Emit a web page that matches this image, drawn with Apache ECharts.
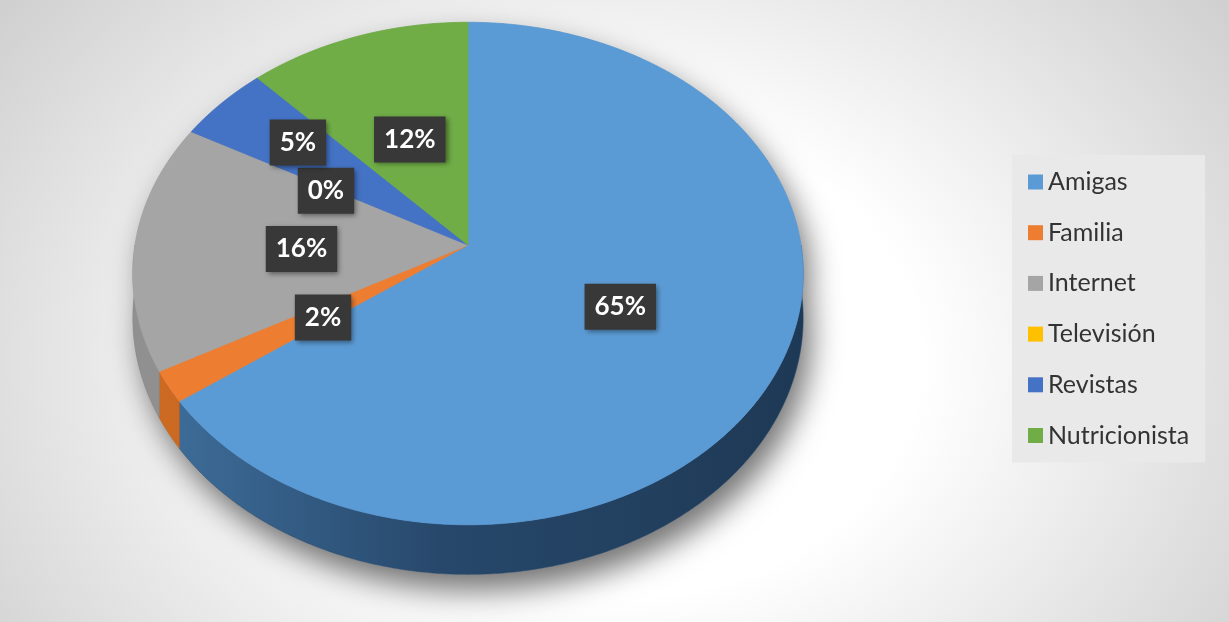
<!DOCTYPE html>
<html><head><meta charset="utf-8">
<script src="https://cdn.jsdelivr.net/npm/echarts@6/dist/echarts.min.js"></script>
<style>
html,body{margin:0;padding:0;width:1229px;height:622px;overflow:hidden;}
body{background: radial-gradient(ellipse 62% 95% at 50% 58%, #ffffff 40%, #d0d0d0 100%);}
#c{width:1229px;height:622px;}
</style></head>
<body><div id="c"></div>
<script>
// ---- data ----
const categories = ['Amigas', 'Familia', 'Internet', 'Televisión', 'Revistas', 'Nutricionista'];
const values = [65, 2, 16, 0, 5, 12];

// ---- styles ----
const colors = ['#5b9bd5', '#ed7d31', '#a5a5a5', '#ffc000', '#4472c4', '#70ad47'];
const sideColors = [
  ['#3f6f9c', '#27486b', '#1e3955'],
  ['#cc6a22', '#c26320', '#b05819'],
  ['#909090', '#868686', '#7a7a7a'],
  ['#bf9000', '#b08400', '#a07800'],
  ['#335694', '#2c4b82', '#253f6e'],
  ['#548235', '#4b752f', '#42682a']
];
// manual nudge of one crowded label (pixels), like the original
const labelNudge = { 'Revistas': [-43, -33] };
const LABEL_DY = 4;

// ---- 3D projection geometry ----
const CX = 468, CY = 245, RX = 333, RY = 248, K = 0.1135, H = 44;
function proj(theta, r, depth) {
  const s = Math.sin(theta), c = Math.cos(theta);
  const w = 1 + K * r * c;
  return [CX + RX * r * s / w, CY - RY * r * c / w + depth * H / w];
}
const total = values.reduce((a, b) => a + b, 0);
const DEG = Math.PI / 180;

function arc(a0, a1, r, depth) {
  const n = Math.max(2, Math.ceil((a1 - a0) / (0.5 * DEG)));
  const out = [];
  for (let k = 0; k <= n; k++) out.push(proj(a0 + (a1 - a0) * k / n, r, depth));
  return out;
}

function renderSlice(params, api) {
  const i = params.seriesIndex;
  let cum = 0;
  for (let j = 0; j < i; j++) cum += values[j];
  const v = api.value(0);
  const a0 = cum / total * 2 * Math.PI;
  const a1 = (cum + v) / total * 2 * Math.PI;
  const color = api.visual('color');
  const children = [];

  if (i === 0) {
    // silhouette for the soft drop shadow
    const sil = arc(-Math.PI / 2, Math.PI / 2, 1, 0).concat(arc(Math.PI / 2, 3 * Math.PI / 2, 1, 1));
    children.push({
      type: 'polygon', shape: { points: sil }, z2: -5,
      style: { fill: '#9a9a9a', shadowBlur: 30, shadowOffsetX: 8, shadowOffsetY: 16, shadowColor: 'rgba(0,0,0,0.55)' }
    });
  }

  // side wall (front half only)
  const s0 = Math.max(a0, Math.PI / 2), s1 = Math.min(a1, 3 * Math.PI / 2);
  if (s1 > s0) {
    const pts = arc(s0, s1, 1, 0).concat(arc(s0, s1, 1, 1).reverse());
    const sc = sideColors[i];
    children.push({
      type: 'polygon', shape: { points: pts }, z2: 1,
      style: {
        fill: { type: 'linear', x: 150, y: 0, x2: 800, y2: 0, global: true,
          colorStops: [{ offset: 0, color: sc[0] }, { offset: 0.45, color: sc[1] }, { offset: 1, color: sc[2] }] },
        stroke: sc[1], lineWidth: 0.5
      }
    });
  }

  // top face
  if (v > 0) {
    const pts = [[CX, CY]].concat(arc(a0, a1, 1, 0));
    children.push({
      type: 'polygon', shape: { points: pts }, z2: 10,
      style: { fill: color, stroke: color, lineWidth: 0.8, lineJoin: 'round' }
    });
  }

  // data label
  const mid = (a0 + a1) / 2;
  const p = proj(mid, 0.5, 0);
  const nudge = labelNudge[categories[i]] || [0, 0];
  children.push({
    type: 'text', x: p[0] + nudge[0], y: p[1] + nudge[1] + LABEL_DY, z2: 20,
    style: {
      text: Math.round(v / total * 100) + '%',
      fill: '#ffffff', fontFamily: 'Lato', fontWeight: 'bold', fontSize: 26,
      align: 'center', verticalAlign: 'middle',
      backgroundColor: '#383838', padding: [10, 10, 10, 10],
      shadowBlur: 5, shadowOffsetX: 2, shadowOffsetY: 2, shadowColor: 'rgba(0,0,0,0.45)'
    }
  });

  return { type: 'group', children: children };
}

const chart = echarts.init(document.getElementById('c'), null, { renderer: 'canvas' });
chart.setOption({
  animation: false,
  backgroundColor: 'transparent',
  color: colors,
  legend: {
    orient: 'vertical', left: 1012, top: 155,
    padding: [12, 16, 12, 16],
    backgroundColor: '#e9e9e9',
    itemWidth: 15, itemHeight: 15, itemGap: 20.7, icon: 'rect',
    selectedMode: false,
    data: categories,
    textStyle: { fontFamily: 'Lato', fontSize: 25, color: '#333333', lineHeight: 30 }
  },
  series: categories.map((name, i) => ({
    type: 'custom', name: name, coordinateSystem: 'none',
    renderItem: renderSlice,
    data: [[values[i]]]
  }))
});
</script>
</body></html>
